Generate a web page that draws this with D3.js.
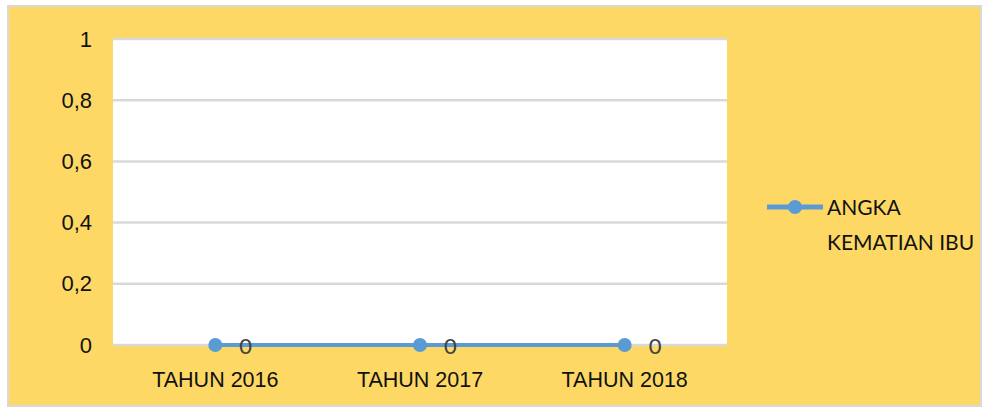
<!DOCTYPE html>
<meta charset="utf-8">
<html>
<style>
 body { margin:0; background:#fff; }
 svg { display:block; font-family: Lato, "Open Sans", sans-serif; }
</style>
<script src="https://d3js.org/d3.v7.min.js"></script>
<svg width="984" height="409"></svg>
<script>
const categories = ["TAHUN 2016", "TAHUN 2017", "TAHUN 2018"];
const values = [0, 0, 0];
const yTicks = [0, 0.2, 0.4, 0.6, 0.8, 1];
const seriesName = ["ANGKA", "KEMATIAN IBU"];

const svg = d3.select('svg');
const yellow = "#FDD865", blue = "#5B9BD5", grid = "#D9D9D9";

// outer frame
svg.append('rect')
	.attr('x', 8).attr('y', 6)
	.attr('width', 973).attr('height', 400)
	.attr('fill', yellow)
	.attr('stroke', grid)
	.attr('stroke-width', 2);

const plotL = 113, plotR = 727, plotT = 39, plotB = 345;

svg.append('rect')
	.attr('x', plotL).attr('y', plotT)
	.attr('width', plotR - plotL).attr('height', plotB - plotT)
	.attr('fill', '#fff');

const x = d3.scaleBand().domain(categories).range([plotL, plotR]);
const y = d3.scaleLinear().domain([0, 1]).range([plotB, plotT]);

// gridlines
svg.append('g')
	.selectAll('line')
	.data(yTicks)
	.join('line')
	.attr('x1', plotL).attr('x2', plotR)
	.attr('y1', d => y(d)).attr('y2', d => y(d))
	.attr('stroke', grid)
	.attr('stroke-width', 2.5);

const fmt = d => String(d).replace('.', ',');

const yAxis = d3.axisLeft(y).tickValues(yTicks).tickFormat(fmt).tickSize(0).tickPadding(21);
const gy = svg.append('g').attr('transform', `translate(${plotL},0)`).call(yAxis);
gy.select('.domain').remove();
gy.selectAll('text').attr('font-size', 22).attr('fill', '#111').attr('font-family', 'inherit');

const xAxis = d3.axisBottom(x).tickSize(0).tickPadding(27);
const gx = svg.append('g').attr('transform', `translate(0,${plotB})`).call(xAxis);
gx.select('.domain').remove();
gx.selectAll('text').attr('font-size', 21.5).attr('fill', '#111').attr('font-family', 'inherit');

const cx = d => x(d) + x.bandwidth() / 2;

const line = d3.line()
	.x((d, i) => cx(categories[i]))
	.y(d => y(d));

svg.append('path')
	.datum(values)
	.attr('d', line)
	.attr('fill', 'none')
	.attr('stroke', blue)
	.attr('stroke-width', 4);

svg.append('g')
	.selectAll('circle')
	.data(values)
	.join('circle')
	.attr('cx', (d, i) => cx(categories[i]))
	.attr('cy', d => y(d))
	.attr('r', 7)
	.attr('fill', blue);

svg.append('g')
	.selectAll('text')
	.data(values)
	.join('text')
	.attr('x', (d, i) => cx(categories[i]) + 24)
	.attr('y', d => y(d) + 9)
	.attr('font-size', 22)
	.attr('fill', '#404040')
	.text(d => d);

// legend
const lg = svg.append('g');
lg.append('line')
	.attr('x1', 767).attr('x2', 823)
	.attr('y1', 207).attr('y2', 207)
	.attr('stroke', blue).attr('stroke-width', 5);
lg.append('circle')
	.attr('cx', 795).attr('cy', 207).attr('r', 7).attr('fill', blue);
lg.selectAll('text')
	.data(seriesName)
	.join('text')
	.attr('x', 827)
	.attr('y', (d, i) => 215 + i * 35)
	.attr('font-size', 21)
	.attr('fill', '#111')
	.text(d => d);
</script>
</html>
